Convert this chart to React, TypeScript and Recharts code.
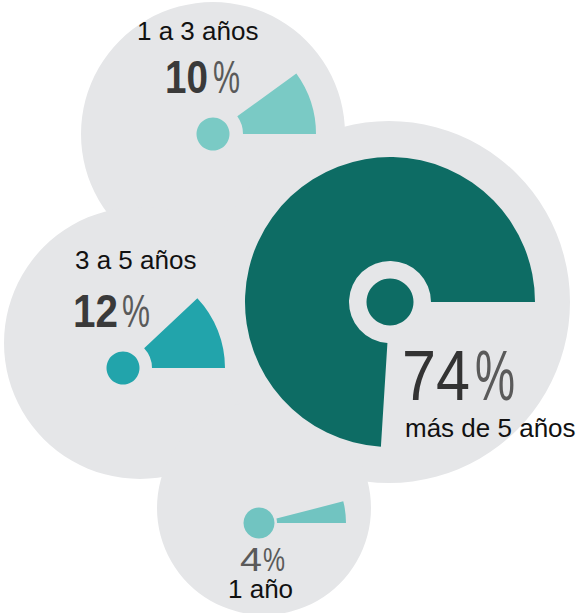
import { PieChart, Pie, Cell } from "recharts"

// años de antigüedad, reparto en %
const categories = ["1 a 3 años", "3 a 5 años", "más de 5 años", "1 año"]
const shares = [10, 12, 74, 4]

const colors = ["#7ACAC5", "#22A4AB", "#0D6C64", "#71C4C1"]
const bubbleGray = "#E5E6E8"

// where each bubble / sector sits on the canvas
const layout = [
  { cx: 213, cy: 134, inner: 30, outer: 103, dot: 16.5, bx: 213, by: 134, br: 132 },
  { cx: 123, cy: 368, inner: 29, outer: 102, dot: 16.5, bx: 140, by: 343, br: 136 },
  { cx: 390, cy: 302, inner: 41, outer: 145, dot: 23.5, bx: 389, by: 302, br: 181 },
  { cx: 259, cy: 523, inner: 18, outer: 87, dot: 15.5, bx: 264, by: 508, br: 107 },
]

// label placement: name line and the big percentage
const labelPos = [
  { nx: 137, ny: 40, px: 165, py: 93, size: 46, numW: 43, pctX: 213, pctW: 27, bold: true },
  { nx: 75, ny: 269, px: 73, py: 327, size: 47, numW: 45, pctX: 122, pctW: 28, bold: true },
  { nx: 405, ny: 437, px: 402, py: 400, size: 70, numW: 68, pctX: 475, pctW: 40, bold: false },
  { nx: 228, ny: 598, px: 240, py: 571, size: 34, numW: 22, pctX: 263, pctW: 22, bold: false },
]

const font = "'Liberation Sans', Arial, sans-serif"

export default function App() {
  return (
    <div style={{ position: "absolute", left: 0, top: 0, width: 581, height: 613 }}>
      <PieChart width={581} height={613} margin={{ top: 0, right: 0, bottom: 0, left: 0 }}>
        {layout.map((l, i) => (
          <Pie
            key={`bubble-${i}`}
            data={[{ name: categories[i], value: 1 }]}
            dataKey="value"
            cx={l.bx}
            cy={l.by}
            innerRadius={0}
            outerRadius={l.br}
            startAngle={0}
            endAngle={360}
            stroke="none"
            fill={bubbleGray}
            isAnimationActive={false}
          />
        ))}
        {layout.map((l, i) => (
          <Pie
            key={`share-${i}`}
            data={[
              { name: categories[i], value: shares[i] },
              { name: "resto", value: 100 - shares[i] },
            ]}
            dataKey="value"
            cx={l.cx}
            cy={l.cy}
            innerRadius={l.inner}
            outerRadius={l.outer}
            startAngle={0}
            endAngle={360}
            stroke="none"
            isAnimationActive={false}
          >
            <Cell fill={colors[i]} />
            <Cell fill="transparent" />
          </Pie>
        ))}
        {layout.map((l, i) => (
          <Pie
            key={`dot-${i}`}
            data={[{ name: categories[i], value: 1 }]}
            dataKey="value"
            cx={l.cx}
            cy={l.cy}
            innerRadius={0}
            outerRadius={l.dot}
            startAngle={0}
            endAngle={360}
            stroke="none"
            fill={colors[i]}
            isAnimationActive={false}
          />
        ))}
      </PieChart>
      {/* labels sit on top of the pies */}
      <svg
        width={581}
        height={613}
        style={{ position: "absolute", left: 0, top: 0, pointerEvents: "none" }}
        fontFamily={font}
      >
        {labelPos.map((p, i) => (
          <g key={`lbl-${i}`}>
            <text x={p.nx} y={p.ny} fontSize={26} fill="#111">
              {categories[i]}
            </text>
            <text
              x={p.px}
              y={p.py}
              fontSize={p.size}
              fontWeight={p.bold ? 700 : 400}
              fill={p.bold ? "#3A3A3A" : i === 3 ? "#5A5A5A" : "#333"}
              textLength={p.numW}
              lengthAdjust="spacingAndGlyphs"
            >
              {String(shares[i])}
            </text>
            <text
              x={p.pctX}
              y={p.py}
              fontSize={p.size}
              fontWeight={400}
              fill="#5A5A5A"
              textLength={p.pctW}
              lengthAdjust="spacingAndGlyphs"
            >
              %
            </text>
          </g>
        ))}
      </svg>
    </div>
  )
}
